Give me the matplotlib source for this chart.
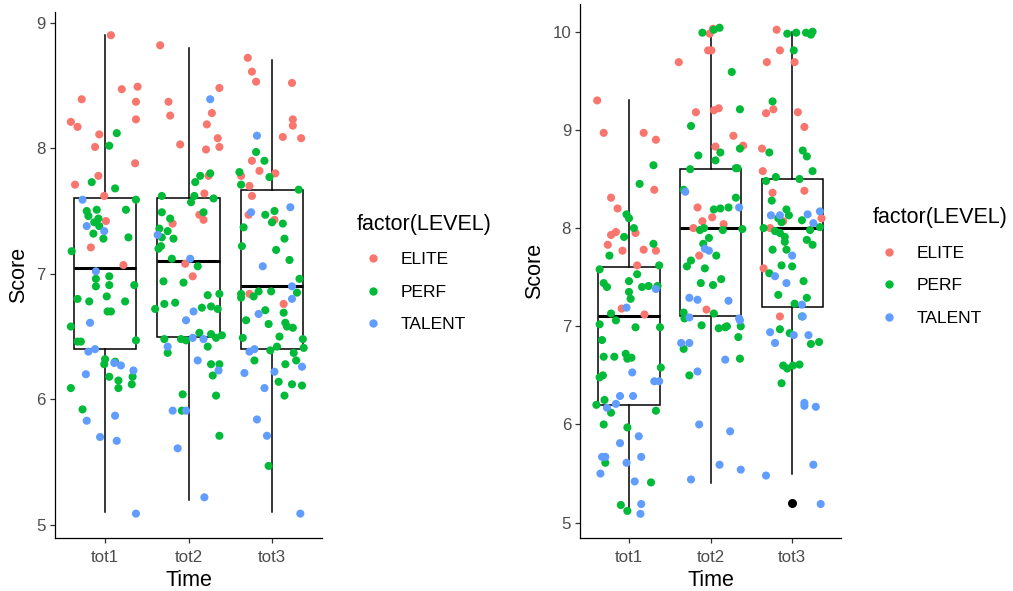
import matplotlib
matplotlib.use("Agg")
import matplotlib.pyplot as plt
from matplotlib.lines import Line2D
import pandas as pd

plt.rcParams['font.family'] = ['Liberation Sans', 'DejaVu Sans']

# ---------------------------------------------------------------------------
# data: (jitter offset, score, level)
# ---------------------------------------------------------------------------
times = ['tot1', 'tot2', 'tot3']
levels = ['ELITE', 'PERF', 'TALENT']
level_colors = ['#F8766D', '#00BA38', '#619CFF']

left_tot1 = [
    (0.07, 8.90, 'ELITE'), (-0.28, 8.39, 'ELITE'), (-0.41, 8.21, 'ELITE'), (-0.33, 8.17, 'ELITE'),
    (-0.07, 8.11, 'ELITE'), (-0.12, 8.01, 'ELITE'), (0.20, 8.47, 'ELITE'), (0.39, 8.49, 'ELITE'),
    (0.37, 8.37, 'ELITE'), (0.37, 8.23, 'ELITE'), (0.36, 7.88, 'ELITE'), (-0.36, 7.71, 'ELITE'),
    (-0.08, 7.78, 'ELITE'), (-0.01, 7.62, 'ELITE'), (0.01, 7.42, 'ELITE'), (-0.17, 7.21, 'ELITE'),
    (0.22, 7.07, 'ELITE'),
    (0.14, 8.12, 'PERF'), (0.05, 8.02, 'PERF'), (-0.16, 7.73, 'PERF'), (0.12, 7.68, 'PERF'),
    (0.37, 7.59, 'PERF'), (-0.22, 7.50, 'PERF'), (-0.20, 7.46, 'PERF'), (-0.10, 7.51, 'PERF'),
    (-0.08, 7.44, 'PERF'), (-0.13, 7.41, 'PERF'), (-0.07, 7.38, 'PERF'), (-0.14, 7.32, 'PERF'),
    (-0.02, 7.28, 'PERF'), (0.25, 7.51, 'PERF'), (0.28, 7.29, 'PERF'), (-0.40, 7.18, 'PERF'),
    (0.05, 6.98, 'PERF'), (0.05, 6.91, 'PERF'), (-0.11, 6.96, 'PERF'), (-0.11, 6.90, 'PERF'),
    (0.35, 6.91, 'PERF'), (-0.33, 6.80, 'PERF'), (-0.19, 6.78, 'PERF'), (0.02, 6.82, 'PERF'),
    (0.24, 6.78, 'PERF'), (0.03, 6.70, 'PERF'), (0.07, 6.70, 'PERF'), (-0.41, 6.58, 'PERF'),
    (-0.33, 6.46, 'PERF'), (-0.29, 6.46, 'PERF'), (0.37, 6.47, 'PERF'), (0.00, 6.32, 'PERF'),
    (-0.01, 6.28, 'PERF'), (0.12, 6.30, 'PERF'), (0.05, 6.18, 'PERF'), (0.16, 6.15, 'PERF'),
    (0.16, 6.09, 'PERF'), (0.33, 6.18, 'PERF'), (0.32, 6.12, 'PERF'), (-0.41, 6.09, 'PERF'),
    (-0.27, 5.92, 'PERF'),
    (-0.27, 7.59, 'TALENT'), (-0.22, 7.38, 'TALENT'), (-0.01, 7.34, 'TALENT'), (-0.11, 7.02, 'TALENT'),
    (-0.18, 6.61, 'TALENT'), (-0.20, 6.38, 'TALENT'), (-0.12, 6.40, 'TALENT'), (-0.23, 6.20, 'TALENT'),
    (0.11, 6.29, 'TALENT'), (0.19, 6.27, 'TALENT'), (0.34, 6.23, 'TALENT'), (-0.22, 5.83, 'TALENT'),
    (0.12, 5.87, 'TALENT'), (-0.06, 5.70, 'TALENT'), (0.14, 5.67, 'TALENT'), (0.37, 5.09, 'TALENT'),
]
left_tot2 = [
    (-0.34, 8.82, 'ELITE'), (-0.24, 8.37, 'ELITE'), (-0.22, 8.26, 'ELITE'), (-0.10, 8.03, 'ELITE'),
    (0.37, 8.48, 'ELITE'), (0.28, 8.28, 'ELITE'), (0.22, 8.19, 'ELITE'), (0.35, 8.08, 'ELITE'),
    (0.37, 8.01, 'ELITE'), (0.21, 7.99, 'ELITE'), (0.24, 7.78, 'ELITE'), (0.19, 7.64, 'ELITE'),
    (0.13, 7.47, 'ELITE'), (0.18, 7.43, 'ELITE'), (-0.19, 7.40, 'ELITE'), (-0.04, 7.08, 'ELITE'),
    (0.05, 6.98, 'ELITE'),
    (-0.32, 7.62, 'PERF'), (0.08, 7.73, 'PERF'), (0.14, 7.78, 'PERF'), (0.26, 7.80, 'PERF'),
    (0.07, 7.62, 'PERF'), (0.03, 7.57, 'PERF'), (0.30, 7.60, 'PERF'), (0.18, 7.49, 'PERF'),
    (-0.32, 7.49, 'PERF'), (-0.22, 7.44, 'PERF'), (-0.35, 7.36, 'PERF'), (-0.25, 7.34, 'PERF'),
    (-0.32, 7.29, 'PERF'), (-0.18, 7.28, 'PERF'), (-0.33, 7.22, 'PERF'), (-0.36, 7.20, 'PERF'),
    (-0.20, 7.12, 'PERF'), (0.11, 7.06, 'PERF'), (-0.30, 6.94, 'PERF'), (-0.06, 6.93, 'PERF'),
    (0.23, 6.83, 'PERF'), (0.37, 6.84, 'PERF'), (-0.29, 6.76, 'PERF'), (-0.16, 6.77, 'PERF'),
    (-0.40, 6.72, 'PERF'), (0.16, 6.73, 'PERF'), (0.27, 6.74, 'PERF'), (0.35, 6.72, 'PERF'),
    (0.13, 6.53, 'PERF'), (0.27, 6.52, 'PERF'), (0.33, 6.49, 'PERF'), (0.40, 6.51, 'PERF'),
    (-0.29, 6.48, 'PERF'), (-0.09, 6.48, 'PERF'), (-0.03, 6.47, 'PERF'), (0.23, 6.42, 'PERF'),
    (-0.25, 6.37, 'PERF'), (0.27, 6.28, 'PERF'), (0.37, 6.28, 'PERF'), (0.29, 6.19, 'PERF'),
    (-0.07, 6.04, 'PERF'), (0.33, 6.03, 'PERF'), (-0.08, 5.91, 'PERF'), (0.37, 5.71, 'PERF'),
    (0.26, 8.39, 'TALENT'), (-0.37, 7.31, 'TALENT'), (0.02, 7.12, 'TALENT'), (0.06, 6.70, 'TALENT'),
    (-0.03, 6.63, 'TALENT'), (0.05, 6.49, 'TALENT'), (0.18, 6.48, 'TALENT'), (-0.25, 6.42, 'TALENT'),
    (0.11, 6.31, 'TALENT'), (0.36, 6.23, 'TALENT'), (-0.19, 5.91, 'TALENT'), (-0.03, 5.91, 'TALENT'),
    (-0.13, 5.61, 'TALENT'), (0.19, 5.22, 'TALENT'),
]
left_tot3 = [
    (-0.29, 8.72, 'ELITE'), (-0.24, 8.61, 'ELITE'), (-0.19, 8.53, 'ELITE'), (0.24, 8.52, 'ELITE'),
    (0.25, 8.23, 'ELITE'), (0.25, 8.18, 'ELITE'), (0.13, 8.09, 'ELITE'), (0.35, 8.08, 'ELITE'),
    (-0.24, 7.90, 'ELITE'), (-0.15, 7.82, 'ELITE'), (0.04, 7.80, 'ELITE'), (-0.37, 7.78, 'ELITE'),
    (-0.27, 7.70, 'ELITE'), (-0.24, 7.62, 'ELITE'), (-0.28, 7.47, 'ELITE'), (0.03, 7.43, 'ELITE'),
    (-0.27, 6.84, 'ELITE'), (0.14, 6.76, 'ELITE'),
    (-0.19, 7.97, 'PERF'), (-0.09, 7.90, 'PERF'), (-0.03, 7.77, 'PERF'), (-0.39, 7.81, 'PERF'),
    (-0.37, 7.71, 'PERF'), (0.32, 7.67, 'PERF'), (-0.34, 7.37, 'PERF'), (-0.08, 7.47, 'PERF'),
    (0.03, 7.50, 'PERF'), (0.00, 7.41, 'PERF'), (0.13, 7.40, 'PERF'), (0.15, 7.28, 'PERF'),
    (-0.36, 7.22, 'PERF'), (0.05, 7.19, 'PERF'), (0.21, 7.11, 'PERF'), (0.33, 6.96, 'PERF'),
    (-0.37, 6.84, 'PERF'), (-0.37, 6.81, 'PERF'), (-0.22, 6.82, 'PERF'), (-0.16, 6.86, 'PERF'),
    (-0.01, 6.86, 'PERF'), (0.30, 6.85, 'PERF'), (-0.08, 6.71, 'PERF'), (0.14, 6.69, 'PERF'),
    (-0.31, 6.63, 'PERF'), (-0.04, 6.60, 'PERF'), (0.16, 6.61, 'PERF'), (0.18, 6.58, 'PERF'),
    (0.25, 6.57, 'PERF'), (0.09, 6.50, 'PERF'), (-0.35, 6.49, 'PERF'), (0.37, 6.48, 'PERF'),
    (0.38, 6.41, 'PERF'), (0.06, 6.42, 'PERF'), (-0.02, 6.39, 'PERF'), (0.26, 6.37, 'PERF'),
    (-0.21, 6.31, 'PERF'), (0.29, 6.31, 'PERF'), (0.16, 6.28, 'PERF'), (0.08, 6.14, 'PERF'),
    (0.24, 6.12, 'PERF'), (0.36, 6.11, 'PERF'), (0.15, 6.03, 'PERF'), (-0.04, 5.47, 'PERF'),
    (-0.25, 7.49, 'TALENT'), (0.22, 7.53, 'TALENT'), (-0.18, 8.10, 'TALENT'), (-0.11, 7.06, 'TALENT'),
    (0.24, 6.90, 'TALENT'), (0.24, 6.80, 'TALENT'), (-0.16, 6.68, 'TALENT'), (-0.27, 6.38, 'TALENT'),
    (-0.21, 6.40, 'TALENT'), (-0.33, 6.21, 'TALENT'), (0.03, 6.22, 'TALENT'), (0.36, 6.26, 'TALENT'),
    (-0.09, 6.09, 'TALENT'), (-0.18, 5.84, 'TALENT'), (-0.06, 5.71, 'TALENT'), (0.34, 5.09, 'TALENT'),
]

right_tot1 = [
    (-0.39, 9.30, 'ELITE'), (-0.31, 8.97, 'ELITE'), (0.18, 8.97, 'ELITE'), (0.33, 8.90, 'ELITE'),
    (0.31, 8.39, 'ELITE'), (-0.22, 8.31, 'ELITE'), (-0.14, 8.20, 'ELITE'), (-0.22, 7.93, 'ELITE'),
    (-0.16, 7.96, 'ELITE'), (-0.26, 7.83, 'ELITE'), (-0.08, 7.77, 'ELITE'), (0.08, 7.95, 'ELITE'),
    (0.18, 7.78, 'ELITE'), (0.33, 7.77, 'ELITE'), (0.10, 7.62, 'ELITE'), (-0.09, 7.18, 'ELITE'),
    (0.19, 7.12, 'ELITE'),
    (0.30, 8.64, 'PERF'), (0.13, 8.45, 'PERF'), (-0.03, 8.14, 'PERF'), (0.00, 8.10, 'PERF'),
    (0.06, 8.00, 'PERF'), (-0.06, 7.91, 'PERF'), (0.30, 7.84, 'PERF'), (-0.24, 7.72, 'PERF'),
    (-0.36, 7.58, 'PERF'), (0.37, 7.62, 'PERF'), (0.10, 7.53, 'PERF'), (0.00, 7.46, 'PERF'),
    (-0.31, 7.44, 'PERF'), (-0.27, 7.40, 'PERF'), (0.16, 7.40, 'PERF'), (0.24, 7.41, 'PERF'),
    (0.35, 7.41, 'PERF'), (0.00, 7.35, 'PERF'), (0.02, 7.28, 'PERF'), (-0.22, 7.13, 'PERF'),
    (-0.16, 7.06, 'PERF'), (-0.36, 7.02, 'PERF'), (0.08, 6.99, 'PERF'), (0.38, 6.99, 'PERF'),
    (-0.33, 6.86, 'PERF'), (-0.31, 6.69, 'PERF'), (-0.18, 6.69, 'PERF'), (-0.04, 6.72, 'PERF'),
    (-0.02, 6.67, 'PERF'), (0.03, 6.68, 'PERF'), (0.39, 6.58, 'PERF'), (-0.36, 6.48, 'PERF'),
    (-0.32, 6.50, 'PERF'), (-0.40, 6.20, 'PERF'), (-0.30, 6.25, 'PERF'), (-0.22, 6.12, 'PERF'),
    (0.33, 6.14, 'PERF'), (-0.31, 6.00, 'PERF'), (-0.02, 5.97, 'PERF'), (-0.29, 5.61, 'PERF'),
    (0.27, 5.41, 'PERF'), (-0.10, 5.18, 'PERF'), (-0.02, 5.12, 'PERF'),
    (0.33, 7.38, 'TALENT'), (-0.03, 7.19, 'TALENT'), (0.04, 6.53, 'TALENT'), (0.05, 6.29, 'TALENT'),
    (-0.11, 6.29, 'TALENT'), (-0.16, 6.21, 'TALENT'), (-0.27, 6.17, 'TALENT'), (0.31, 6.44, 'TALENT'),
    (0.37, 6.44, 'TALENT'), (0.12, 5.88, 'TALENT'), (-0.11, 5.81, 'TALENT'), (-0.33, 5.67, 'TALENT'),
    (-0.29, 5.67, 'TALENT'), (0.15, 5.67, 'TALENT'), (-0.03, 5.61, 'TALENT'), (-0.35, 5.50, 'TALENT'),
    (0.07, 5.42, 'TALENT'), (0.15, 5.19, 'TALENT'), (0.14, 5.09, 'TALENT'),
]
right_tot2 = [
    (-0.39, 9.69, 'ELITE'), (0.03, 10.03, 'ELITE'), (-0.01, 9.98, 'ELITE'), (-0.03, 9.81, 'ELITE'),
    (0.01, 9.81, 'ELITE'), (-0.18, 9.18, 'ELITE'), (0.04, 9.20, 'ELITE'), (0.10, 9.22, 'ELITE'),
    (0.28, 8.94, 'ELITE'), (0.40, 8.84, 'ELITE'), (0.06, 8.83, 'ELITE'), (-0.16, 8.21, 'ELITE'),
    (0.02, 8.11, 'ELITE'), (-0.10, 8.07, 'ELITE'), (0.16, 8.04, 'ELITE'), (-0.21, 8.00, 'ELITE'),
    (-0.14, 7.72, 'ELITE'), (-0.05, 7.17, 'ELITE'),
    (-0.10, 9.99, 'PERF'), (0.04, 10.02, 'PERF'), (0.11, 10.04, 'PERF'), (0.26, 9.59, 'PERF'),
    (0.36, 9.21, 'PERF'), (-0.24, 9.04, 'PERF'), (-0.15, 8.74, 'PERF'), (0.12, 8.77, 'PERF'),
    (0.06, 8.69, 'PERF'), (0.36, 8.81, 'PERF'), (-0.25, 8.60, 'PERF'), (0.31, 8.61, 'PERF'),
    (0.33, 8.61, 'PERF'), (-0.33, 8.39, 'PERF'), (0.31, 8.31, 'PERF'), (0.04, 8.19, 'PERF'),
    (0.12, 8.20, 'PERF'), (0.22, 8.21, 'PERF'), (-0.08, 8.00, 'PERF'), (-0.13, 7.98, 'PERF'),
    (0.15, 7.98, 'PERF'), (0.39, 7.99, 'PERF'), (-0.02, 7.90, 'PERF'), (-0.09, 7.84, 'PERF'),
    (-0.24, 7.67, 'PERF'), (-0.29, 7.61, 'PERF'), (0.07, 7.72, 'PERF'), (-0.07, 7.59, 'PERF'),
    (0.13, 7.48, 'PERF'), (-0.12, 7.44, 'PERF'), (0.03, 7.42, 'PERF'), (-0.33, 7.14, 'PERF'),
    (-0.32, 7.08, 'PERF'), (0.04, 7.13, 'PERF'), (-0.11, 7.01, 'PERF'), (0.10, 6.98, 'PERF'),
    (0.18, 6.99, 'PERF'), (0.20, 7.00, 'PERF'), (0.37, 7.00, 'PERF'), (0.34, 6.89, 'PERF'),
    (-0.33, 6.77, 'PERF'), (0.36, 6.67, 'PERF'), (-0.26, 6.50, 'PERF'),
    (-0.31, 8.37, 'TALENT'), (0.35, 8.21, 'TALENT'), (-0.07, 7.79, 'TALENT'), (-0.02, 7.77, 'TALENT'),
    (-0.26, 7.29, 'TALENT'), (-0.16, 7.27, 'TALENT'), (0.22, 7.26, 'TALENT'), (-0.26, 7.09, 'TALENT'),
    (0.35, 7.08, 'TALENT'), (0.36, 7.06, 'TALENT'), (-0.36, 6.83, 'TALENT'), (-0.26, 6.83, 'TALENT'),
    (-0.16, 6.54, 'TALENT'), (0.18, 6.66, 'TALENT'), (-0.14, 6.00, 'TALENT'), (0.24, 5.93, 'TALENT'),
    (0.11, 5.59, 'TALENT'), (-0.24, 5.44, 'TALENT'), (0.37, 5.54, 'TALENT'),
]
right_tot3 = [
    (-0.19, 10.02, 'ELITE'), (-0.15, 9.81, 'ELITE'), (-0.31, 9.69, 'ELITE'), (0.03, 9.69, 'ELITE'),
    (-0.32, 9.17, 'ELITE'), (-0.23, 9.21, 'ELITE'), (0.07, 9.18, 'ELITE'), (0.15, 9.03, 'ELITE'),
    (-0.37, 8.81, 'ELITE'), (-0.36, 8.58, 'ELITE'), (-0.24, 8.36, 'ELITE'), (0.15, 8.38, 'ELITE'),
    (-0.11, 8.07, 'ELITE'), (-0.27, 8.00, 'ELITE'), (0.36, 8.10, 'ELITE'), (-0.35, 7.59, 'ELITE'),
    (-0.15, 7.10, 'ELITE'),
    (-0.06, 9.98, 'PERF'), (0.05, 9.99, 'PERF'), (0.17, 9.99, 'PERF'), (0.25, 10.00, 'PERF'),
    (0.23, 9.97, 'PERF'), (0.02, 9.81, 'PERF'), (-0.24, 9.29, 'PERF'), (-0.28, 8.77, 'PERF'),
    (0.13, 8.79, 'PERF'), (0.18, 8.73, 'PERF'), (0.25, 8.58, 'PERF'), (-0.20, 8.52, 'PERF'),
    (-0.32, 8.48, 'PERF'), (0.09, 8.50, 'PERF'), (-0.25, 8.28, 'PERF'), (-0.07, 8.19, 'PERF'),
    (-0.04, 8.13, 'PERF'), (-0.17, 8.10, 'PERF'), (-0.13, 8.06, 'PERF'), (0.12, 8.08, 'PERF'),
    (-0.35, 8.00, 'PERF'), (-0.21, 7.97, 'PERF'), (-0.15, 7.95, 'PERF'), (0.22, 7.98, 'PERF'),
    (0.34, 8.01, 'PERF'), (-0.09, 7.91, 'PERF'), (-0.09, 7.86, 'PERF'), (0.18, 7.88, 'PERF'),
    (0.25, 7.83, 'PERF'), (-0.24, 7.78, 'PERF'), (-0.07, 7.78, 'PERF'), (-0.13, 7.62, 'PERF'),
    (0.00, 7.61, 'PERF'), (-0.28, 7.54, 'PERF'), (0.14, 7.46, 'PERF'), (-0.17, 7.32, 'PERF'),
    (0.18, 7.29, 'PERF'), (0.03, 7.23, 'PERF'), (0.12, 7.10, 'PERF'), (-0.15, 6.97, 'PERF'),
    (-0.03, 6.93, 'PERF'), (0.23, 6.82, 'PERF'), (0.33, 6.84, 'PERF'), (-0.11, 6.60, 'PERF'),
    (-0.06, 6.57, 'PERF'), (0.01, 6.60, 'PERF'), (0.09, 6.61, 'PERF'), (-0.13, 6.42, 'PERF'),
    (-0.26, 8.13, 'TALENT'), (-0.15, 8.13, 'TALENT'), (0.19, 8.14, 'TALENT'), (0.34, 8.17, 'TALENT'),
    (0.26, 8.05, 'TALENT'), (0.00, 7.72, 'TALENT'), (-0.21, 7.51, 'TALENT'), (-0.07, 7.44, 'TALENT'),
    (0.12, 7.22, 'TALENT'), (0.13, 7.10, 'TALENT'), (-0.27, 6.94, 'TALENT'), (-0.21, 6.83, 'TALENT'),
    (0.02, 6.91, 'TALENT'), (0.20, 6.91, 'TALENT'), (0.15, 6.22, 'TALENT'), (0.15, 6.19, 'TALENT'),
    (0.29, 6.18, 'TALENT'), (0.26, 5.59, 'TALENT'), (-0.32, 5.48, 'TALENT'), (0.35, 5.19, 'TALENT'),
]

# box statistics
left_whislo = [5.1, 5.2, 5.1]
left_q1 = [6.4, 6.5, 6.4]
left_med = [7.05, 7.1, 6.9]
left_q3 = [7.6, 7.6, 7.67]
left_whishi = [8.9, 8.8, 8.7]
left_fliers = [[], [], []]

right_whislo = [5.1, 5.4, 5.5]
right_q1 = [6.2, 7.1, 7.2]
right_med = [7.1, 8.0, 8.0]
right_q3 = [7.6, 8.6, 8.5]
right_whishi = [9.3, 10.0, 10.0]
right_fliers = [[], [], [5.2]]


def to_frame(groups):
    rows = []
    for i, pts in enumerate(groups):
        for dx, y, lvl in pts:
            rows.append({'pos': i + 1 + dx, 'score': y, 'level': lvl})
    return pd.DataFrame(rows)


def draw_panel(ax, df, whislo, q1, med, q3, whishi, fliers, ylim, yticks, leg_anchor):
    stats = []
    for i in range(3):
        stats.append({'whislo': whislo[i], 'q1': q1[i], 'med': med[i],
                      'q3': q3[i], 'whishi': whishi[i], 'fliers': fliers[i]})
    ax.bxp(stats, positions=[1, 2, 3], widths=0.75, showcaps=False, patch_artist=True,
           boxprops=dict(facecolor='white', edgecolor='black', linewidth=1.1),
           whiskerprops=dict(color='black', linewidth=1.1),
           medianprops=dict(color='black', linewidth=2.2),
           flierprops=dict(marker='o', markerfacecolor='black', markeredgecolor='none',
                           markersize=6.5),
           zorder=2)
    for lvl, col in zip(levels, level_colors):
        sub = df[df['level'] == lvl]
        ax.scatter(sub['pos'], sub['score'], s=34, color=col, edgecolors='none', zorder=3)

    ax.set_xlim(0.4, 3.6)
    ax.set_ylim(*ylim)
    ax.set_xticks([1, 2, 3])
    ax.set_xticklabels(times)
    ax.set_yticks(yticks)
    ax.set_yticklabels([str(t) for t in yticks])
    for side in ['top', 'right']:
        ax.spines[side].set_visible(False)
    for side in ['left', 'bottom']:
        ax.spines[side].set_linewidth(0.9)
    ax.tick_params(length=3.5, width=0.9, color='#333333', labelcolor='#4D4D4D',
                   labelsize=12.2, pad=3)
    ax.tick_params(axis='x', pad=5)
    ax.set_xlabel('Time', fontsize=15.5, labelpad=4)
    ax.set_ylabel('Score', fontsize=15.5, labelpad=5)

    handles = [Line2D([], [], marker='o', linestyle='none', markersize=6,
                      markerfacecolor=c, markeredgecolor='none') for c in level_colors]
    leg = ax.legend(handles, levels, title='factor(LEVEL)', loc='center left',
                    bbox_to_anchor=leg_anchor, frameon=False, fontsize=12.5,
                    title_fontsize=15.5, handletextpad=0.7, labelspacing=1.0,
                    handlelength=1.8, borderpad=0, borderaxespad=0, alignment='left')
    return leg


fig = plt.figure(figsize=(10.13, 5.91), dpi=100)
ax_left = fig.add_axes([0.0543, 0.0897, 0.2636, 0.8900])
ax_right = fig.add_axes([0.5726, 0.0897, 0.2577, 0.9035])

draw_panel(ax_left, to_frame([left_tot1, left_tot2, left_tot3]),
           left_whislo, left_q1, left_med, left_q3, left_whishi, left_fliers,
           (4.896, 9.085), [5, 6, 7, 8, 9], (1.131, 0.504))
draw_panel(ax_right, to_frame([right_tot1, right_tot2, right_tot3]),
           right_whislo, right_q1, right_med, right_q3, right_whishi, right_fliers,
           (4.844, 10.282), [5, 6, 7, 8, 9, 10], (1.123, 0.508))

fig.savefig('out.png', dpi=100)
